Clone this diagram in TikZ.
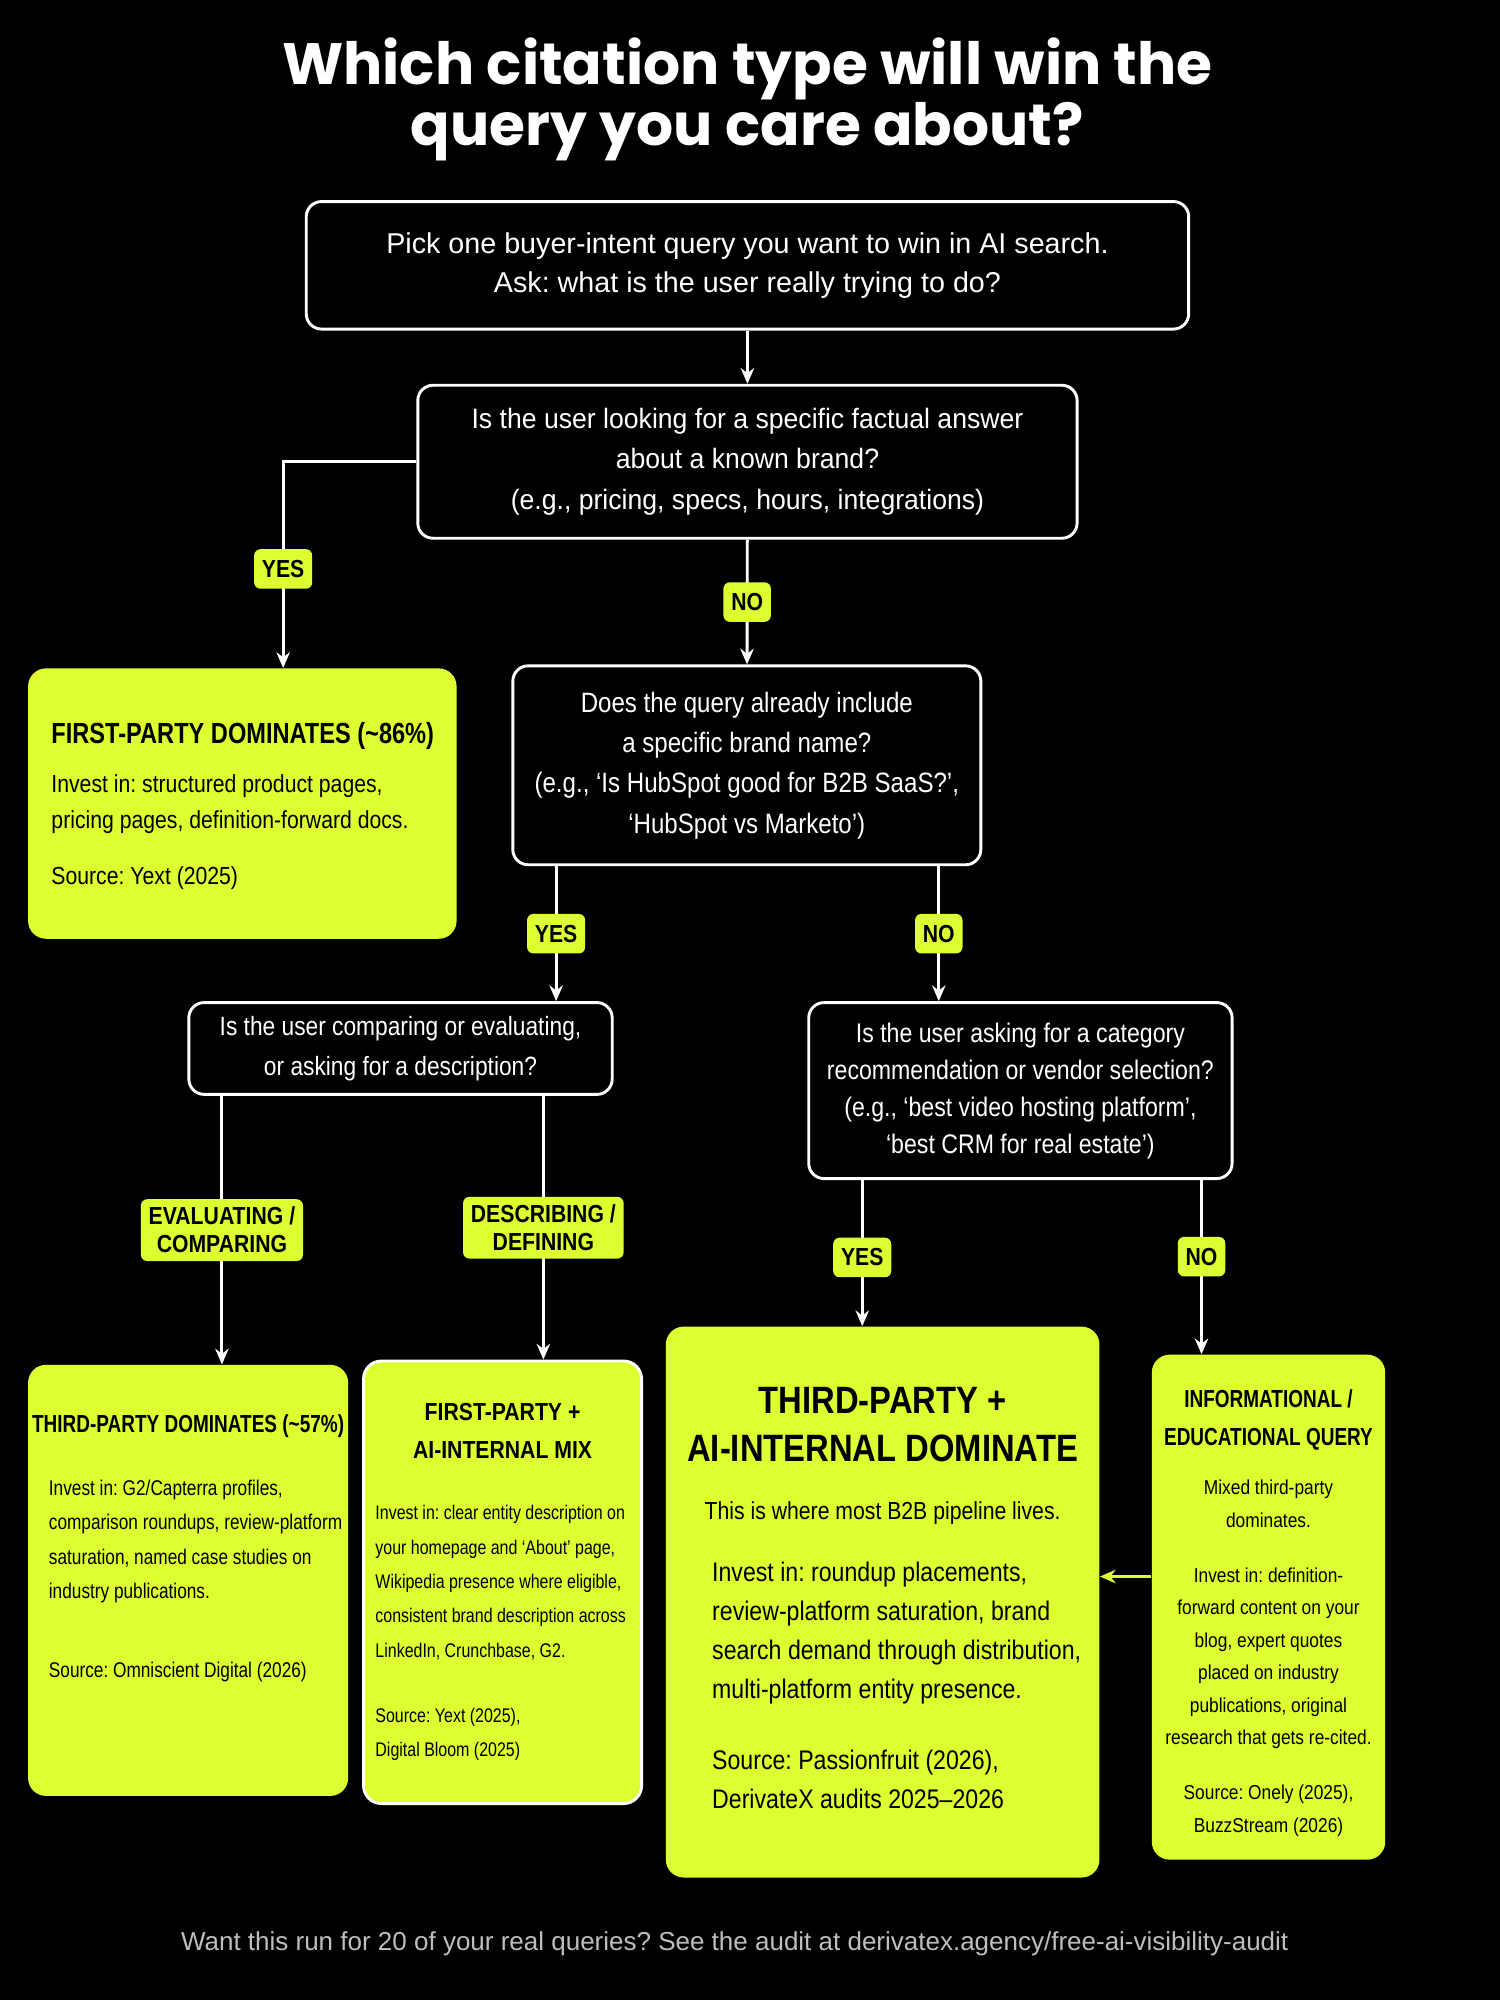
\documentclass[tikz,border=0pt]{standalone}
\usepackage{fontspec}
\setmainfont{Liberation Sans}
\newfontfamily\cond[FakeStretch=0.86]{Liberation Sans}
\newfontfamily\condq[FakeStretch=0.95]{Liberation Sans}
\newfontfamily\condn[FakeStretch=0.81]{Liberation Sans}
\newfontfamily\condx[FakeStretch=0.77]{Liberation Sans}
\newfontfamily\titlefont{Poppins}
\usetikzlibrary{arrows.meta,positioning}
\definecolor{lime}{RGB}{220,255,50}
\definecolor{footgray}{RGB}{190,190,190}
\tikzset{
  qbox/.style={draw=white, line width=1.3pt, rounded corners=0.24cm, fill=black, text=white,
    align=center, inner sep=0pt, font=\condq\fontsize{12.5}{18}\selectfont},
  gbox/.style={fill=lime, rounded corners=0.28cm, inner sep=0pt},
  lab/.style={fill=lime, rounded corners=0.1cm, text=black, align=center, inner sep=3.5pt,
    minimum height=0.62cm, font=\cond\bfseries\fontsize{11}{12.5}\selectfont},
  arr/.style={draw=white, line width=1.3pt, -{Stealth[length=7pt,width=6pt]}},
  gtxt/.style={text=black, inner sep=0pt},
}
\begin{document}
\frenchspacing
\begin{tikzpicture}[x=0.02cm,y=-0.02cm]
\fill[black] (0,0) rectangle (1176,1568);
\useasboundingbox (0,0) rectangle (1176,1568);

% title
\node[text=white, align=center, font=\titlefont\bfseries\fontsize{26}{25}\selectfont] (title) at (586,78)
  {Which citation type will win the\\query you care about?};

% questions
\node[qbox, minimum width=13.84cm, minimum height=2cm, font=\fontsize{12.8}{17.5}\selectfont] (q1) at (586,208)
  {Pick one buyer-intent query you want to win in AI search.\\Ask: what is the user really trying to do?};
\node[qbox, minimum width=10.34cm, minimum height=2.4cm] (q2) at (586,362)
  {Is the user looking for a specific factual answer\\about a known brand?\\(e.g., pricing, specs, hours, integrations)};
\node[qbox, minimum width=7.34cm, minimum height=3.12cm, font=\cond\fontsize{12.5}{18}\selectfont] (q3) at (585.5,600)
  {Does the query already include\\a specific brand name?\\(e.g., ‘Is HubSpot good for B2B SaaS?’,\\‘HubSpot vs Marketo’)};
\node[qbox, minimum width=6.64cm, minimum height=1.44cm, font=\cond\fontsize{11.8}{18}\selectfont] (q4) at (314,822)
  {Is the user comparing or evaluating,\\or asking for a description?};
\node[qbox, minimum width=6.64cm, minimum height=2.76cm, font=\cond\fontsize{12}{16.5}\selectfont] (q5) at (800,855)
  {Is the user asking for a category\\recommendation or vendor selection?\\(e.g., ‘best video hosting platform’,\\‘best CRM for real estate’)};

% results
\node[gbox, minimum width=6.72cm, minimum height=4.24cm] (r1) at (190,630) {};
\node[gtxt, anchor=west, align=left, font=\cond\fontsize{11}{16}\selectfont] (r1t) at (40,632) {%
  \condn\bfseries\fontsize{13}{16}\selectfont FIRST-PARTY DOMINATES (\textasciitilde86\%)\\[6pt]
  \cond\mdseries\fontsize{11}{16}\selectfont Invest in: structured product pages,\\pricing pages, definition-forward docs.\\[9pt] Source: Yext (2025)};

\node[gbox, minimum width=5.02cm, minimum height=6.76cm] (r2) at (147.5,1239) {};
\node[gtxt, font=\condx\bfseries\fontsize{11}{13}\selectfont] (r2h) at (147.5,1118) {THIRD-PARTY DOMINATES (\textasciitilde57\%)};
\node[gtxt, anchor=north west, align=left, font=\condn\fontsize{9.5}{15.3}\selectfont] (r2t) at (38,1160)
  {Invest in: G2/Capterra profiles,\\comparison roundups, review-platform\\saturation, named case studies on\\industry publications.\\[20pt] Source: Omniscient Digital (2026)};

\node[gbox, draw=white, line width=1.3pt, minimum width=4.36cm, minimum height=6.94cm] (r3) at (394,1240.5) {};
\node[gtxt, align=center, font=\cond\bfseries\fontsize{11}{17}\selectfont] (r3h) at (394,1122) {FIRST-PARTY +\\AI-INTERNAL MIX};
\node[gtxt, anchor=north west, align=left, font=\condn\fontsize{8.8}{15.3}\selectfont] (r3t) at (294,1180)
  {Invest in: clear entity description on\\your homepage and ‘About’ page,\\Wikipedia presence where eligible,\\consistent brand description across\\LinkedIn, Crunchbase, G2.\\[14pt] Source: Yext (2025),\\Digital Bloom (2025)};

\node[gbox, minimum width=6.8cm, minimum height=8.64cm] (r4) at (692,1256) {};
\node[gtxt, align=center, font=\cond\bfseries\fontsize{17}{21.5}\selectfont] (r4h) at (692,1117) {THIRD-PARTY +\\AI-INTERNAL DOMINATE};
\node[gtxt, font=\cond\fontsize{11}{14}\selectfont] (r4s) at (692,1186) {This is where most B2B pipeline lives.};
\node[gtxt, anchor=north west, align=left, font=\cond\fontsize{12}{17.5}\selectfont] (r4t) at (558,1224)
  {Invest in: roundup placements,\\review-platform saturation, brand\\search demand through distribution,\\multi-platform entity presence.\\[14pt] Source: Passionfruit (2026),\\DerivateX audits 2025–2026};

\node[gbox, minimum width=3.66cm, minimum height=7.92cm] (r5) at (994.5,1260) {};
\node[gtxt, align=center, font=\condx\bfseries\fontsize{11}{17}\selectfont] (r5h) at (994.5,1113) {INFORMATIONAL /\\EDUCATIONAL QUERY};
\node[gtxt, align=center, font=\cond\fontsize{9}{14.5}\selectfont] (r5t) at (994.5,1300)
  {Mixed third-party\\dominates.\\[10pt] Invest in: definition-\\forward content on your\\blog, expert quotes\\placed on industry\\publications, original\\research that gets re-cited.\\[10pt] Source: Onely (2025),\\BuzzStream (2026)};

% helper columns
\coordinate (xy1) at (222,0);
\coordinate (xa) at (436,0);
\coordinate (xb) at (736,0);
\coordinate (xc) at (174,0);
\coordinate (xd) at (426,0);
\coordinate (xe) at (676,0);
\coordinate (xf) at (942,0);
\coordinate (yg) at (0,1236);

% connectors
\draw[arr] (q1) -- (q2);
\draw[arr] (q2.west) -| (r1.north -| xy1) node[lab, pos=0.76] (l1) {YES};
\draw[arr] (q2) -- (q3) node[lab, midway] (l2) {NO};
\draw[arr] (q3.south -| xa) -- (q4.north -| xa) node[lab, midway] (l3) {YES};
\draw[arr] (q3.south -| xb) -- (q5.north -| xb) node[lab, midway] (l4) {NO};
\draw[arr] (q4.south -| xc) -- (r2.north -| xc) node[lab, pos=0.5] (l5) {EVALUATING /\\COMPARING};
\draw[arr] (q4.south -| xd) -- (r3.north -| xd) node[lab, pos=0.5] (l6) {DESCRIBING /\\DEFINING};
\draw[arr] (q5.south -| xe) -- (r4.north -| xe) node[lab, pos=0.53] (l7) {YES};
\draw[arr] (q5.south -| xf) -- (r5.north -| xf) node[lab, pos=0.44] (l8) {NO};
\draw[arr, draw=lime] (r5.west |- yg) -- (r4.east |- yg);

% footer
\node[text=footgray, font=\fontsize{11.6}{13}\selectfont] (foot) at (576,1524)
  {Want this run for 20 of your real queries? See the audit at derivatex.agency/free-ai-visibility-audit};
\end{tikzpicture}
\end{document}
